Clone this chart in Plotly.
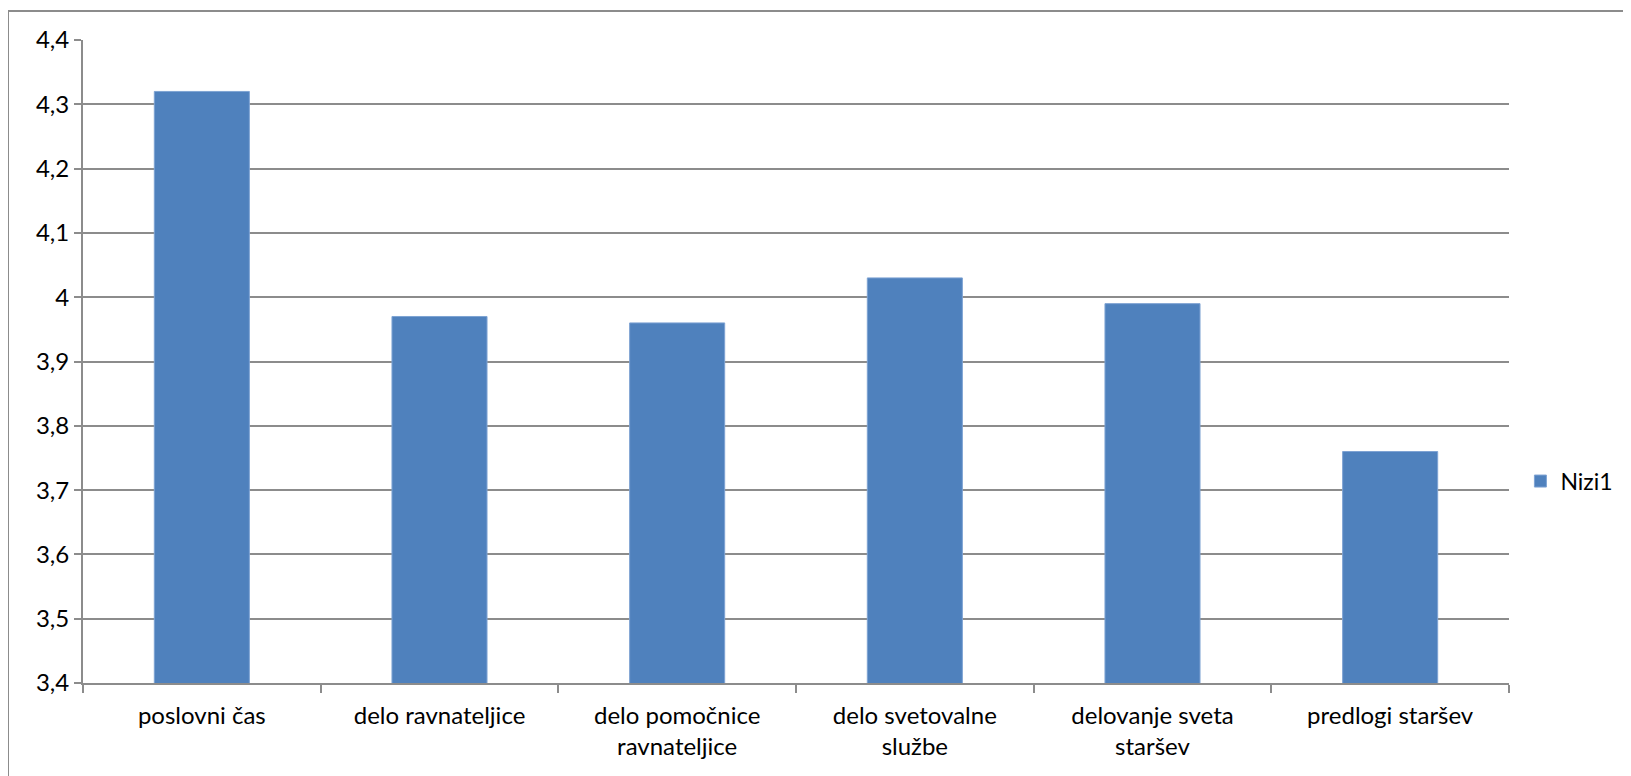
import plotly.graph_objects as go

categories = ["poslovni čas", "delo ravnateljice", "delo pomočnice<br>ravnateljice",
              "delo svetovalne<br>službe", "delovanje sveta<br>staršev", "predlogi staršev"]
values = [4.32, 3.97, 3.96, 4.03, 3.99, 3.76]
series_name = "Nizi1"
y_tickvals = [3.4, 3.5, 3.6, 3.7, 3.8, 3.9, 4.0, 4.1, 4.2, 4.3, 4.4]
y_ticktext = ["3,4", "3,5", "3,6", "3,7", "3,8", "3,9", "4", "4,1", "4,2", "4,3", "4,4"]

W, H = 1631, 776
OFF = 8  # page body margin
L, R, T, B = 83 - OFF, 1509 - OFF, 40 - OFF, 683 - OFF

fig = go.Figure()
fig.add_trace(go.Bar(
    x=categories, y=values, name=series_name,
    marker=dict(color="#4f81bd", line=dict(color="#7ea3d3", width=1)),
))

grid_col = "#8c8c8c"
font = dict(family="Lato, Open Sans, sans-serif", size=24, color="#000000")

fig.update_layout(
    width=W, height=H,
    margin=dict(l=L, r=W - R, t=T, b=H - B, pad=0),
    paper_bgcolor="white", plot_bgcolor="white",
    font=font,
    bargap=0.6,
    showlegend=True,
    legend=dict(x=1.008, xanchor="left", y=0.314, yanchor="middle",
                font=dict(family="Lato, Open Sans, sans-serif", size=23, color="#000"),
                itemwidth=30, tracegroupgap=0, bgcolor="rgba(0,0,0,0)"),
    xaxis=dict(
        type="category", tickson="boundaries", ticks="outside", ticklen=8,
        tickcolor=grid_col, tickwidth=2,
        showline=True, linecolor=grid_col, linewidth=2,
        showgrid=False, tickfont=font, automargin=False,
        ticklabelstandoff=10,
    ),
    yaxis=dict(
        range=[3.4, 4.4], tickvals=y_tickvals, ticktext=y_ticktext,
        ticks="outside", ticklen=7, tickcolor=grid_col, tickwidth=2,
        showline=True, linecolor=grid_col, linewidth=2,
        showgrid=True, gridcolor=grid_col, gridwidth=2,
        zeroline=False, tickfont=font, automargin=False,
    ),
    shapes=[dict(
        type="path", xref="paper", yref="paper",
        path="M -0.0526,-0.4 L -0.0526,1.0451 L 1.3,1.0451",
        line=dict(color="#8c8c8c", width=2),
    )],
)

fig.write_html("out.html")
